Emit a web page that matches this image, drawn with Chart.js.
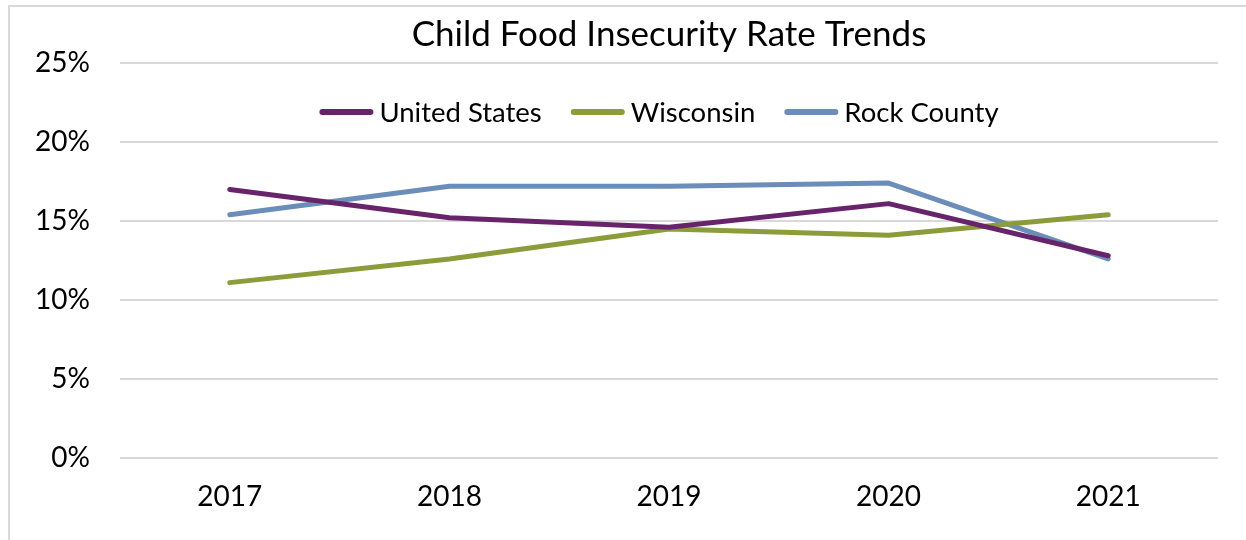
<!DOCTYPE html>
<html>
<head>
<meta charset="utf-8">
<title>Child Food Insecurity Rate Trends</title>
<script src="https://cdn.jsdelivr.net/npm/chart.js@4/dist/chart.umd.min.js"></script>
<style>
  html, body { margin: 0; padding: 0; background: #fff; }
  #wrap { position: relative; width: 1246px; height: 540px; }
</style>
</head>
<body>
<div id="wrap"><canvas id="chart" width="1246" height="540"></canvas></div>
<script>
const years = ["2017", "2018", "2019", "2020", "2021"];
const unitedStates = [17.0, 15.2, 14.6, 16.1, 12.8];
const wisconsin = [11.1, 12.6, 14.5, 14.1, 15.4];
const rockCounty = [15.4, 17.2, 17.2, 17.4, 12.6];
const yTicks = [0, 5, 10, 15, 20, 25];

const FONT = "Lato, 'Open Sans', sans-serif";

// thin grey frame along the top and left edges
const framePlugin = {
  id: "frame",
  beforeDraw(chart) {
    const ctx = chart.ctx;
    ctx.save();
    ctx.strokeStyle = "#d9d9d9";
    ctx.lineWidth = 2;
    ctx.beginPath();
    ctx.moveTo(9, chart.height);
    ctx.lineTo(9, 6);
    ctx.lineTo(chart.width, 6);
    ctx.stroke();
    ctx.restore();
  }
};

// horizontal legend drawn inside the plot, under the top gridline
const innerLegend = {
  id: "innerLegend",
  afterDraw(chart) {
    const ctx = chart.ctx;
    const area = chart.chartArea;
    const sample = 54, gap = 6, spacing = 29;
    ctx.save();
    ctx.font = "27.5px " + FONT;
    const items = chart.data.datasets.map(ds => ({
      label: ds.label,
      color: ds.borderColor,
      w: ctx.measureText(ds.label).width
    }));
    const total = items.reduce((s, it) => s + sample + gap + it.w, 0) + spacing * (items.length - 1);
    let x = (area.left + area.right) / 2 - total / 2 - 10;
    const y = 112;
    ctx.textBaseline = "middle";
    ctx.textAlign = "left";
    items.forEach(it => {
      ctx.strokeStyle = it.color;
      ctx.lineWidth = 6;
      ctx.lineCap = "round";
      ctx.beginPath();
      ctx.moveTo(x + 3, y);
      ctx.lineTo(x + sample - 3, y);
      ctx.stroke();
      ctx.fillStyle = "#000";
      ctx.fillText(it.label, x + sample + gap, y + 1);
      x += sample + gap + it.w + spacing;
    });
    ctx.restore();
  }
};

function lineSet(label, data, color) {
  return {
    label,
    data,
    borderColor: color,
    backgroundColor: color,
    borderWidth: 5,
    borderCapStyle: "round",
    borderJoinStyle: "round",
    pointRadius: 0,
    pointHoverRadius: 0,
    tension: 0
  };
}

const ctx = document.getElementById("chart").getContext("2d");

new Chart(ctx, {
  type: "line",
  data: {
    labels: years,
    datasets: [
      lineSet("United States", unitedStates, "#68246a"),
      lineSet("Wisconsin", wisconsin, "#8c9c3b"),
      lineSet("Rock County", rockCounty, "#6a8db9")
    ]
  },
  options: {
    responsive: false,
    animation: false,
    layout: { padding: { left: 0, right: 28, top: 0, bottom: 0 } },

    plugins: {
      legend: { display: false },
      tooltip: { enabled: false },
      title: {
        display: true,
        fullSize: false,
        text: "Child Food Insecurity Rate Trends",
        color: "#000",
        font: { family: FONT, size: 35, weight: "normal" },
        lineHeight: 1.2,
        padding: { top: 14, bottom: 7 }
      }
    },

    scales: {
      x: {
        offset: true,
        grid: { display: false, drawTicks: false },
        border: { display: false },
        ticks: {
          color: "#000",
          padding: 22,
          font: { family: FONT, size: 28 }
        },
        afterFit(scale) { scale.height = 82; }
      },
      y: {
        min: 0,
        max: 25,
        afterBuildTicks(scale) {
          scale.ticks = yTicks.map(v => ({ value: v }));
        },
        grid: { color: "#d9d9d9", lineWidth: 2, drawTicks: false },
        border: { display: false },
        ticks: {
          color: "#000",
          padding: 30,
          font: { family: FONT, size: 28 },
          callback: v => v + "%"
        },
        afterFit(scale) { scale.width = 120; }
      }
    }
  },
  plugins: [framePlugin, innerLegend]
});
</script>
</body>
</html>
